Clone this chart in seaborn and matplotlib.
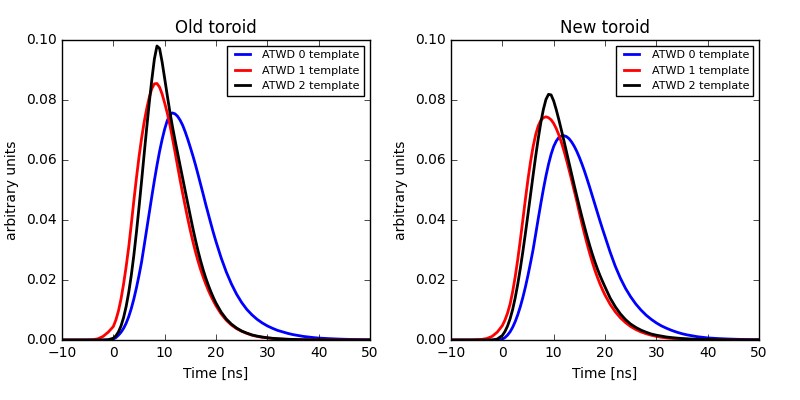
import numpy as np
import pandas as pd
import seaborn as sns
import matplotlib
matplotlib.use("Agg")
import matplotlib.pyplot as plt
from matplotlib.ticker import FormatStrFormatter

# time axis: coarse before 0, 0.5 ns steps over the pulse, 1 ns in the tail
time_ns = [-10, -8, -6, -5, -4, -3, -2, -1,
           0, 0.5, 1, 1.5, 2, 2.5, 3, 3.5, 4, 4.5,
           5, 5.5, 6, 6.5, 7, 7.5, 8, 8.5, 9, 9.5,
           10, 10.5, 11, 11.5, 12, 12.5, 13, 13.5, 14, 14.5,
           15, 15.5, 16, 16.5, 17, 17.5, 18, 18.5, 19, 19.5,
           20,
           21, 22, 23, 24, 25, 26, 27, 28, 29, 30,
           31, 32, 33, 34, 35, 36, 37, 38, 39, 40,
           42, 44, 46, 48, 50]

# ---- old toroid ----
old_atwd0 = [0, 0, 0, 0, 0, 0, 0, 0,
             0.0003, 0.0008, 0.0016, 0.0026, 0.0039, 0.0056, 0.0078, 0.0105, 0.0137, 0.0174,
             0.0215, 0.026, 0.0314, 0.0369, 0.0424, 0.0479, 0.0532, 0.0582, 0.0628, 0.0668,
             0.0703, 0.0731, 0.075, 0.0757, 0.0754, 0.0746, 0.0733, 0.0716, 0.0694, 0.0669,
             0.0642, 0.0614, 0.0584, 0.0552, 0.0519, 0.0486, 0.0452, 0.042, 0.0388, 0.0357,
             0.0328,
             0.0274, 0.0227, 0.0187, 0.0153, 0.0125, 0.0102, 0.0084, 0.0069, 0.0057, 0.0047,
             0.0039, 0.0032, 0.0027, 0.0022, 0.0018, 0.0015, 0.0012, 0.001, 0.0008, 0.00065,
             0.00045, 0.0003, 0.0002, 0.00013, 0.00008]
old_atwd1 = [0, 0, 0, 0, 0.0001, 0.0004, 0.0012, 0.0026,
             0.0045, 0.0067, 0.0097, 0.0137, 0.0187, 0.0245, 0.031, 0.0386, 0.0465, 0.054,
             0.061, 0.0672, 0.0726, 0.0771, 0.0809, 0.0838, 0.0854, 0.0855, 0.0843, 0.082,
             0.079, 0.0757, 0.0718, 0.0674, 0.0628, 0.0581, 0.0534, 0.0489, 0.0446, 0.0404,
             0.0365, 0.0328, 0.0294, 0.0263, 0.0235, 0.021, 0.0187, 0.0166, 0.0147, 0.013,
             0.0114,
             0.0087, 0.0066, 0.005, 0.0038, 0.0029, 0.0022, 0.0016, 0.0012, 0.0009, 0.0007,
             0.0005, 0.0004, 0.0003, 0.00022, 0.00016, 0.00012, 0.00009, 0.00007, 0.00005, 0.00004,
             0.00002, 0.00001, 0, 0, 0]
old_atwd2 = [0, 0, 0, 0, 0, 0, 0, 0.0001,
             0.0006, 0.0014, 0.0027, 0.0047, 0.0075, 0.0112, 0.0159, 0.0216, 0.0283, 0.0359,
             0.0442, 0.0529, 0.0619, 0.0707, 0.0791, 0.0868, 0.0937, 0.098, 0.0972, 0.0927,
             0.0872, 0.0816, 0.0762, 0.0713, 0.0668, 0.0625, 0.0582, 0.054, 0.0497, 0.0455,
             0.0413, 0.0372, 0.0333, 0.0297, 0.0264, 0.0234, 0.0207, 0.0183, 0.0161, 0.0141,
             0.0123,
             0.0093, 0.007, 0.0053, 0.004, 0.003, 0.0023, 0.0017, 0.0013, 0.001, 0.00075,
             0.00057, 0.00043, 0.00033, 0.00025, 0.00019, 0.00014, 0.0001, 0.00008, 0.00006, 0.00004,
             0.00002, 0.00001, 0, 0, 0]

# ---- new toroid ----
new_atwd0 = [0, 0, 0, 0, 0, 0, 0, 0,
             0.0003, 0.0008, 0.0016, 0.0027, 0.0042, 0.0061, 0.0084, 0.0111, 0.0142, 0.0177,
             0.0216, 0.0258, 0.0302, 0.0353, 0.0405, 0.0455, 0.0503, 0.0547, 0.0586, 0.0619,
             0.0645, 0.0663, 0.0675, 0.068, 0.0681, 0.0678, 0.0671, 0.066, 0.0646, 0.0629,
             0.0609, 0.0587, 0.0563, 0.0537, 0.051, 0.0482, 0.0454, 0.0426, 0.0398, 0.0371,
             0.0345,
             0.0293, 0.0246, 0.0206, 0.0172, 0.0144, 0.012, 0.01, 0.0083, 0.0069, 0.0057,
             0.0047, 0.0039, 0.0032, 0.0026, 0.0021, 0.0017, 0.0014, 0.0011, 0.0009, 0.0007,
             0.00048, 0.00033, 0.00022, 0.00015, 0.0001]
new_atwd1 = [0, 0, 0, 0.0001, 0.0002, 0.0005, 0.0012, 0.0026,
             0.0048, 0.0066, 0.0089, 0.0119, 0.016, 0.021, 0.0268, 0.0333, 0.0401, 0.047,
             0.0536, 0.0595, 0.0645, 0.0685, 0.0714, 0.0732, 0.0741, 0.0744, 0.0741, 0.0734,
             0.0722, 0.0705, 0.0684, 0.0659, 0.0631, 0.06, 0.0567, 0.0533, 0.0498, 0.0463,
             0.0425, 0.0389, 0.0354, 0.0321, 0.029, 0.0261, 0.0234, 0.021, 0.0188, 0.0168,
             0.015,
             0.0119, 0.0094, 0.0074, 0.0058, 0.0045, 0.0035, 0.0027, 0.0021, 0.0016, 0.0012,
             0.0009, 0.0007, 0.00053, 0.0004, 0.0003, 0.00023, 0.00017, 0.00013, 0.0001, 0.00008,
             0.00004, 0.00002, 0.00001, 0, 0]
new_atwd2 = [0, 0, 0, 0, 0, 0, 0, 0.0003,
             0.0015, 0.0028, 0.0046, 0.007, 0.0101, 0.014, 0.0186, 0.0238, 0.0295, 0.0356,
             0.042, 0.0485, 0.055, 0.0613, 0.0672, 0.0725, 0.0769, 0.0802, 0.0819, 0.0817,
             0.0797, 0.0768, 0.0735, 0.07, 0.0664, 0.0627, 0.059, 0.0553, 0.0516, 0.048,
             0.0445, 0.0411, 0.0378, 0.0346, 0.0316, 0.0288, 0.0262, 0.0238, 0.0216, 0.0196,
             0.0177,
             0.014, 0.0111, 0.0087, 0.0068, 0.0053, 0.0042, 0.0033, 0.0026, 0.002, 0.0016,
             0.0013, 0.001, 0.0008, 0.00064, 0.0005, 0.0004, 0.00032, 0.00025, 0.0002, 0.00016,
             0.0001, 0.00006, 0.00004, 0.00002, 0.00001]

labels = ["ATWD 0 template", "ATWD 1 template", "ATWD 2 template"]
colors = ["blue", "red", "black"]

panels = [
    ("Old toroid", [old_atwd0, old_atwd1, old_atwd2]),
    ("New toroid", [new_atwd0, new_atwd1, new_atwd2]),
]

plt.style.use("classic")
plt.rcParams["font.family"] = ["DejaVu Sans"]

fig = plt.figure(figsize=(8, 4), dpi=100, facecolor="white")
axes = [fig.add_axes([0.0775, 0.15, 0.385, 0.75]),
        fig.add_axes([0.56375, 0.15, 0.385, 0.75])]

for ax, (title, curves) in zip(axes, panels):
    df = pd.concat([pd.DataFrame({"time": time_ns, "value": c, "template": lab})
                    for c, lab in zip(curves, labels)])
    sns.lineplot(data=df, x="time", y="value", hue="template", hue_order=labels,
                 palette=dict(zip(labels, colors)), lw=2, estimator=None,
                 legend=False, ax=ax)
    ax.set_xlim(-10, 50)
    ax.set_ylim(0, 0.1)
    ax.set_xticks([-10, 0, 10, 20, 30, 40, 50])
    ax.set_yticks([0, 0.02, 0.04, 0.06, 0.08, 0.10])
    ax.yaxis.set_major_formatter(FormatStrFormatter("%.2f"))
    ax.tick_params(labelsize=10)
    ax.set_title(title, fontsize=12)
    ax.set_xlabel("Time [ns]", fontsize=10)
    ax.set_ylabel("arbitrary units", fontsize=10)
    ax.set_facecolor("white")
    ax.legend(ax.get_lines(), labels, loc="upper right", fontsize=8)

fig.savefig("out.png", dpi=100, facecolor="white")
